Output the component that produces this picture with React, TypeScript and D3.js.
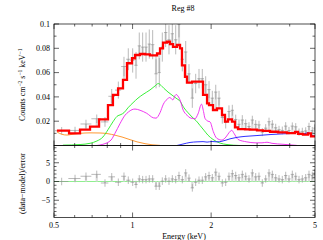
import React from 'react';
import * as d3 from 'd3';

// Model (folded, red step) : bin edges in keV and values in counts/cm2/s/keV
const modelEdges = [0.513, 0.571, 0.629, 0.687, 0.744, 0.805, 0.841, 0.880, 0.919, 0.952, 0.995, 1.022, 1.068, 1.116, 1.166, 1.241, 1.274, 1.308, 1.355, 1.391, 1.429, 1.480, 1.520, 1.546, 1.588, 1.616, 1.689, 1.862, 1.929, 1.963, 2.033, 2.106, 2.201, 2.260, 2.321, 2.404, 2.468, 2.535, 2.697, 2.818, 2.997, 3.161, 3.362, 3.608, 3.906, 4.191, 4.303, 4.497, 4.700, 4.827, 5.0];
const modelVals = [0.0122, 0.0100, 0.0130, 0.0155, 0.0215, 0.0333, 0.0416, 0.0470, 0.0540, 0.0677, 0.0718, 0.0745, 0.0753, 0.0750, 0.0742, 0.0757, 0.0800, 0.0846, 0.0854, 0.0835, 0.0812, 0.0827, 0.0800, 0.0660, 0.0566, 0.0517, 0.0525, 0.0416, 0.0347, 0.0333, 0.0292, 0.0306, 0.0251, 0.0196, 0.0215, 0.0196, 0.0150, 0.0135, 0.0132, 0.0130, 0.0124, 0.0120, 0.0113, 0.0108, 0.0102, 0.0112, 0.0095, 0.0090, 0.0100, 0.0075];

// Data points
const dataE = [0.535, 0.602, 0.663, 0.729, 0.784, 0.832, 0.882, 0.927, 0.963, 1.001, 1.031, 1.061, 1.093, 1.126, 1.159, 1.194, 1.230, 1.266, 1.300, 1.339, 1.379, 1.420, 1.463, 1.506, 1.551, 1.598, 1.645, 1.694, 1.745, 1.797, 1.850, 1.906, 1.963, 2.021, 2.083, 2.144, 2.207, 2.274, 2.341, 2.411, 2.484, 2.557, 2.633, 2.713, 2.793, 2.876, 2.963, 3.050, 3.141, 3.237, 3.333, 3.431, 3.535, 3.640, 3.747, 3.861, 3.975, 4.093, 4.218, 4.342, 4.470, 4.606, 4.742, 4.882, 4.98];
const dataV = [0.0122, 0.0124, 0.0177, 0.0220, 0.0194, 0.0405, 0.0456, 0.0650, 0.0710, 0.0700, 0.0660, 0.0820, 0.0810, 0.0810, 0.0835, 0.0830, 0.0590, 0.0600, 0.0810, 0.0930, 0.0870, 0.0920, 0.0870, 0.1000, 0.0710, 0.0770, 0.0590, 0.0390, 0.0510, 0.0550, 0.0550, 0.0500, 0.0460, 0.0390, 0.0440, 0.0390, 0.0230, 0.0190, 0.0280, 0.0290, 0.0214, 0.0175, 0.0210, 0.0180, 0.0157, 0.0210, 0.0174, 0.0170, 0.0110, 0.0143, 0.0196, 0.0176, 0.0146, 0.0130, 0.0124, 0.0160, 0.0123, 0.0160, 0.0154, 0.0110, 0.0116, 0.0120, 0.0157, 0.0123, 0.0144];
const dataErr = [0.003, 0.003, 0.0035, 0.0035, 0.004, 0.006, 0.007, 0.008, 0.009, 0.010, 0.011, 0.011, 0.012, 0.012, 0.012, 0.012, 0.012, 0.012, 0.012, 0.012, 0.012, 0.012, 0.012, 0.011, 0.010, 0.009, 0.008, 0.008, 0.008, 0.008, 0.008, 0.007, 0.007, 0.006, 0.006, 0.006, 0.005, 0.005, 0.005, 0.0045, 0.004, 0.004, 0.004, 0.0035, 0.0035, 0.0035, 0.0035, 0.0033, 0.0033, 0.0033, 0.0033, 0.0033, 0.0033, 0.0032, 0.0032, 0.0032, 0.003, 0.003, 0.003, 0.003, 0.003, 0.003, 0.003, 0.003, 0.003];
const resid = [0, 0.8, 1.4, 1.9, -0.4, 1.25, -0.2, 1.4, 0.35, -0.2, -0.8, 0.7, 0.5, 0.5, 0.7, 0.7, -1.25, -1.25, 0.1, 0.7, 0.1, 0.7, 0.5, 1.6, 0.5, 2.3, 0.9, -1.7, -0.2, 0.35, 0.35, 1.25, 1.6, 1.0, 2.5, 1.4, -0.4, -0.2, 1.4, 2.1, 1.6, 1.0, 1.9, 1.4, 0.7, 2.3, 1.25, 1.4, -0.4, 0.7, 2.3, 1.9, 1.0, 0.7, 0.5, 1.6, 0.7, 1.9, 1.4, 0.5, 0.7, 1.0, 1.9, 1.6, 2.3];

// Model components
const greenE = [0.541, 0.629, 0.687, 0.730, 0.770, 0.805, 0.841, 0.872, 0.903, 0.927, 0.960, 1.004, 1.049, 1.096, 1.166, 1.219, 1.255, 1.285, 1.319, 1.367, 1.416, 1.467, 1.520, 1.574, 1.631, 1.689, 1.750, 1.813, 1.878, 1.945, 2.033, 2.163, 2.300, 2.581];
const greenV = [0.0003, 0.0008, 0.0018, 0.0037, 0.0070, 0.0130, 0.0195, 0.0240, 0.0255, 0.0270, 0.0310, 0.0352, 0.0390, 0.0420, 0.0457, 0.0490, 0.0510, 0.0495, 0.0470, 0.0440, 0.0415, 0.0390, 0.0365, 0.0310, 0.0270, 0.0235, 0.0205, 0.0165, 0.0125, 0.0085, 0.0050, 0.0020, 0.0008, 0.0];
const magentaE = [0.729, 0.770, 0.827, 0.856, 0.895, 0.936, 0.963, 0.995, 1.022, 1.068, 1.133, 1.201, 1.230, 1.274, 1.312, 1.355, 1.391, 1.425, 1.467, 1.500, 1.520, 1.564, 1.616, 1.660, 1.734, 1.781, 1.837, 1.870, 1.894, 1.945, 1.980, 2.039, 2.101, 2.195, 2.280, 2.341, 2.398, 2.447, 2.535, 2.737, 2.946, 3.133, 3.274, 3.421, 3.770, 4.255];
const magentaV = [0.0, 0.0010, 0.0045, 0.0100, 0.0180, 0.0250, 0.0275, 0.0295, 0.0300, 0.0290, 0.0265, 0.0228, 0.0225, 0.0270, 0.0340, 0.0380, 0.0395, 0.0375, 0.0420, 0.0400, 0.0375, 0.0290, 0.0250, 0.0228, 0.0220, 0.0260, 0.0340, 0.0280, 0.0224, 0.0200, 0.0195, 0.0114, 0.0060, 0.0045, 0.0070, 0.0105, 0.0125, 0.0100, 0.0050, 0.0030, 0.0022, 0.0022, 0.0027, 0.0018, 0.0010, 0.0001];
const orangeE = [0.513, 0.536, 0.561, 0.586, 0.629, 0.687, 0.750, 0.805, 0.856, 0.911, 0.978, 1.040, 1.116, 1.187, 1.274];
const orangeV = [0.0112, 0.0092, 0.0086, 0.0092, 0.0100, 0.0104, 0.0103, 0.0097, 0.0085, 0.0070, 0.0048, 0.0030, 0.0015, 0.0006, 0.0001];
const blueE = [1.478, 1.560, 1.660, 1.766, 1.862, 1.929, 2.016, 2.106, 2.201, 2.363, 2.512, 2.697, 2.997, 3.362, 3.770, 4.118, 4.255, 4.342, 4.578, 4.700, 4.827, 5.0];
const blueV = [0.0, 0.0012, 0.0025, 0.0030, 0.0032, 0.0028, 0.0033, 0.0030, 0.0035, 0.0055, 0.0067, 0.0075, 0.0082, 0.0090, 0.0096, 0.0100, 0.0112, 0.0100, 0.0097, 0.0108, 0.0088, 0.0076];

// Axis ticks
const xMajor = [0.5, 1, 2, 5];
const xMajorLabels = ['0.5', '1', '2', '5'];
const xMinor = [0.6, 0.7, 0.8, 0.9, 3, 4];
const yTopMajor = [0.02, 0.04, 0.06, 0.08, 0.1];
const yTopLabels = ['0.02', '0.04', '0.06', '0.08', '0.1'];
const yTopMinor = [0.01, 0.03, 0.05, 0.07, 0.09];
const yResMajor = [-5, 0, 5];
const yResLabels = ['\u22125', '0', '5'];
const yResMinor = [-9, -8, -7, -6, -4, -3, -2, -1, 1, 2, 3, 4, 6, 7, 8, 9];

const FONT = "'Liberation Serif', 'DejaVu Serif', serif";

export default function App() {
  const L = 54, R = 315, T = 24, M = 145.5, B = 217.5;
  const x = d3.scaleLog().domain([0.5, 5]).range([L, R]);
  const yT = d3.scaleLinear().domain([0, 0.1]).range([M, T]);
  const yR = d3.scaleLinear().domain([-9.6, 9.6]).range([B, M]);

  const lo: number[] = [];
  const hi: number[] = [];
  dataE.forEach((e, i) => {
    const prev = i > 0 ? dataE[i - 1] : e * e / dataE[i + 1];
    const next = i < dataE.length - 1 ? dataE[i + 1] : e * e / dataE[i - 1];
    lo.push(Math.sqrt(prev * e));
    hi.push(Math.min(5, Math.sqrt(e * next)));
  });

  const stepPts: [number, number][] = modelVals.map((v, i) => [modelEdges[i], v]);
  stepPts.push([modelEdges[modelEdges.length - 1], modelVals[modelVals.length - 1]]);
  const stepLine = d3.line<[number, number]>().x(d => x(d[0])).y(d => yT(d[1])).curve(d3.curveStepAfter);

  const compLine = (E: number[], V: number[]) =>
    d3.line<number>().x((_, i) => x(E[i])).y(d => yT(d)).curve(d3.curveMonotoneX)(V) || '';

  const tickLenMaj = 5, tickLenMin = 2.5;
  const axisColor = '#000';
  const dataColor = '#8c8c8c';
  const shadeColor = '#dadada';

  const xTicks = (yTopEdge: number, yBotEdge: number, key: string) => (
    <g key={key}>
      {xMajor.map((v, i) => (
        <g key={'M' + i}>
          <line x1={x(v)} x2={x(v)} y1={yBotEdge} y2={yBotEdge - tickLenMaj} stroke={axisColor} strokeWidth={0.6} />
          <line x1={x(v)} x2={x(v)} y1={yTopEdge} y2={yTopEdge + tickLenMaj} stroke={axisColor} strokeWidth={0.6} />
        </g>
      ))}
      {xMinor.map((v, i) => (
        <g key={'m' + i}>
          <line x1={x(v)} x2={x(v)} y1={yBotEdge} y2={yBotEdge - tickLenMin} stroke={axisColor} strokeWidth={0.6} />
          <line x1={x(v)} x2={x(v)} y1={yTopEdge} y2={yTopEdge + tickLenMin} stroke={axisColor} strokeWidth={0.6} />
        </g>
      ))}
    </g>
  );

  const yTicks = (scale: (v: number) => number, major: number[], minor: number[], key: string) => (
    <g key={key}>
      {major.map((v, i) => (
        <g key={'M' + i}>
          <line x1={L} x2={L + tickLenMaj} y1={scale(v)} y2={scale(v)} stroke={axisColor} strokeWidth={0.6} />
          <line x1={R} x2={R - tickLenMaj} y1={scale(v)} y2={scale(v)} stroke={axisColor} strokeWidth={0.6} />
        </g>
      ))}
      {minor.map((v, i) => (
        <g key={'m' + i}>
          <line x1={L} x2={L + tickLenMin} y1={scale(v)} y2={scale(v)} stroke={axisColor} strokeWidth={0.6} />
          <line x1={R} x2={R - tickLenMin} y1={scale(v)} y2={scale(v)} stroke={axisColor} strokeWidth={0.6} />
        </g>
      ))}
    </g>
  );

  return (
    <svg width={323} height={240} viewBox="0 0 323 240"
      style={{ position: 'absolute', left: 0, top: 0, background: '#fff' }}
      fontFamily={FONT}>
      <defs>
        <clipPath id="clipTop"><rect x={L} y={T} width={R - L} height={M - T} /></clipPath>
        <clipPath id="clipRes"><rect x={L} y={M} width={R - L} height={B - M} /></clipPath>
      </defs>
      <rect x={0} y={0} width={323} height={240} fill="#fff" />

      <text x={183} y={11} fontSize={8} textAnchor="middle" fill="#000">Reg #8</text>

      {/* Top panel */}
      <g clipPath="url(#clipTop)">
        {dataE.map((e, i) => (
          <line key={'lg' + i} x1={x(e)} x2={x(e)}
            y1={yT(Math.min(dataV[i], interpModel(e)))} y2={yT(Math.max(dataV[i], interpModel(e)))}
            stroke={shadeColor} strokeWidth={2.2} />
        ))}
        {dataE.map((e, i) => (
          <g key={'d' + i} stroke={dataColor} strokeWidth={0.6}>
            <line x1={x(lo[i])} x2={x(hi[i])} y1={yT(dataV[i])} y2={yT(dataV[i])} />
            <line x1={x(e)} x2={x(e)} y1={yT(dataV[i] - dataErr[i])} y2={yT(dataV[i] + dataErr[i])} />
          </g>
        ))}
        <path d={compLine(orangeE, orangeV)} fill="none" stroke="#ff8c1a" strokeWidth={0.9} />
        <path d={compLine(greenE, greenV)} fill="none" stroke="#22ee22" strokeWidth={0.9} />
        <path d={compLine(magentaE, magentaV)} fill="none" stroke="#ee22ee" strokeWidth={0.9} />
        <path d={compLine(blueE, blueV)} fill="none" stroke="#1a1aff" strokeWidth={0.9} />
        <path d={stepLine(stepPts) || ''} fill="none" stroke="#ff0000" strokeWidth={2.3} />
      </g>

      {/* Residual panel */}
      <g clipPath="url(#clipRes)">
        <line x1={L} x2={R} y1={yR(0)} y2={yR(0)} stroke="#8fef8f" strokeWidth={1} />
        {dataE.map((e, i) => (
          <line key={'rl' + i} x1={x(e)} x2={x(e)} y1={yR(Math.min(0, resid[i]))} y2={yR(Math.max(0, resid[i]))}
            stroke={shadeColor} strokeWidth={2.2} />
        ))}
        {dataE.map((e, i) => (
          <g key={'r' + i} stroke={dataColor} strokeWidth={0.6}>
            <line x1={x(lo[i])} x2={x(hi[i])} y1={yR(resid[i])} y2={yR(resid[i])} />
            <line x1={x(e)} x2={x(e)} y1={yR(resid[i] - 1)} y2={yR(resid[i] + 1)} />
          </g>
        ))}
      </g>

      <rect x={L} y={T} width={R - L} height={M - T} fill="none" stroke={axisColor} strokeWidth={0.7} />
      <rect x={L} y={M} width={R - L} height={B - M} fill="none" stroke={axisColor} strokeWidth={0.7} />

      {xTicks(T, M, 'xt1')}
      {xTicks(M, B, 'xt2')}
      {yTicks(yT, yTopMajor, yTopMinor, 'yt1')}
      {yTicks(yR, yResMajor, yResMinor, 'yt2')}

      {yTopMajor.map((v, i) => (
        <text key={'ytl' + i} x={L - 4} y={yT(v) + 2.8} fontSize={8} textAnchor="end" fill="#000">{yTopLabels[i]}</text>
      ))}
      {yResMajor.map((v, i) => (
        <text key={'yrl' + i} x={L - 4} y={yR(v) + 2.8} fontSize={8} textAnchor="end" fill="#000">{yResLabels[i]}</text>
      ))}
      {xMajor.map((v, i) => (
        <text key={'xl' + i} x={x(v)} y={228} fontSize={8} textAnchor="middle" fill="#000">{xMajorLabels[i]}</text>
      ))}

      <text x={184} y={238.5} fontSize={8} textAnchor="middle" fill="#000">Energy (keV)</text>
      <text transform={`translate(25,${(T + M) / 2}) rotate(-90)`} fontSize={8} textAnchor="middle" fill="#000">
        Counts cm<tspan fontSize={5.5} dy={-3}>{'\u22122'}</tspan><tspan dy={3}> s</tspan><tspan fontSize={5.5} dy={-3}>{'\u22121'}</tspan><tspan dy={3}> keV</tspan><tspan fontSize={5.5} dy={-3}>{'\u22121'}</tspan>
      </text>
      <text transform={`translate(25,${(M + B) / 2 + 2}) rotate(-90)`} fontSize={8} textAnchor="middle" fill="#000">(data−model)/error</text>
    </svg>
  );
}

function interpModel(e: number): number {
  for (let i = 0; i < modelVals.length; i++) {
    if (e >= modelEdges[i] && e < modelEdges[i + 1]) return modelVals[i];
  }
  return modelVals[modelVals.length - 1];
}
